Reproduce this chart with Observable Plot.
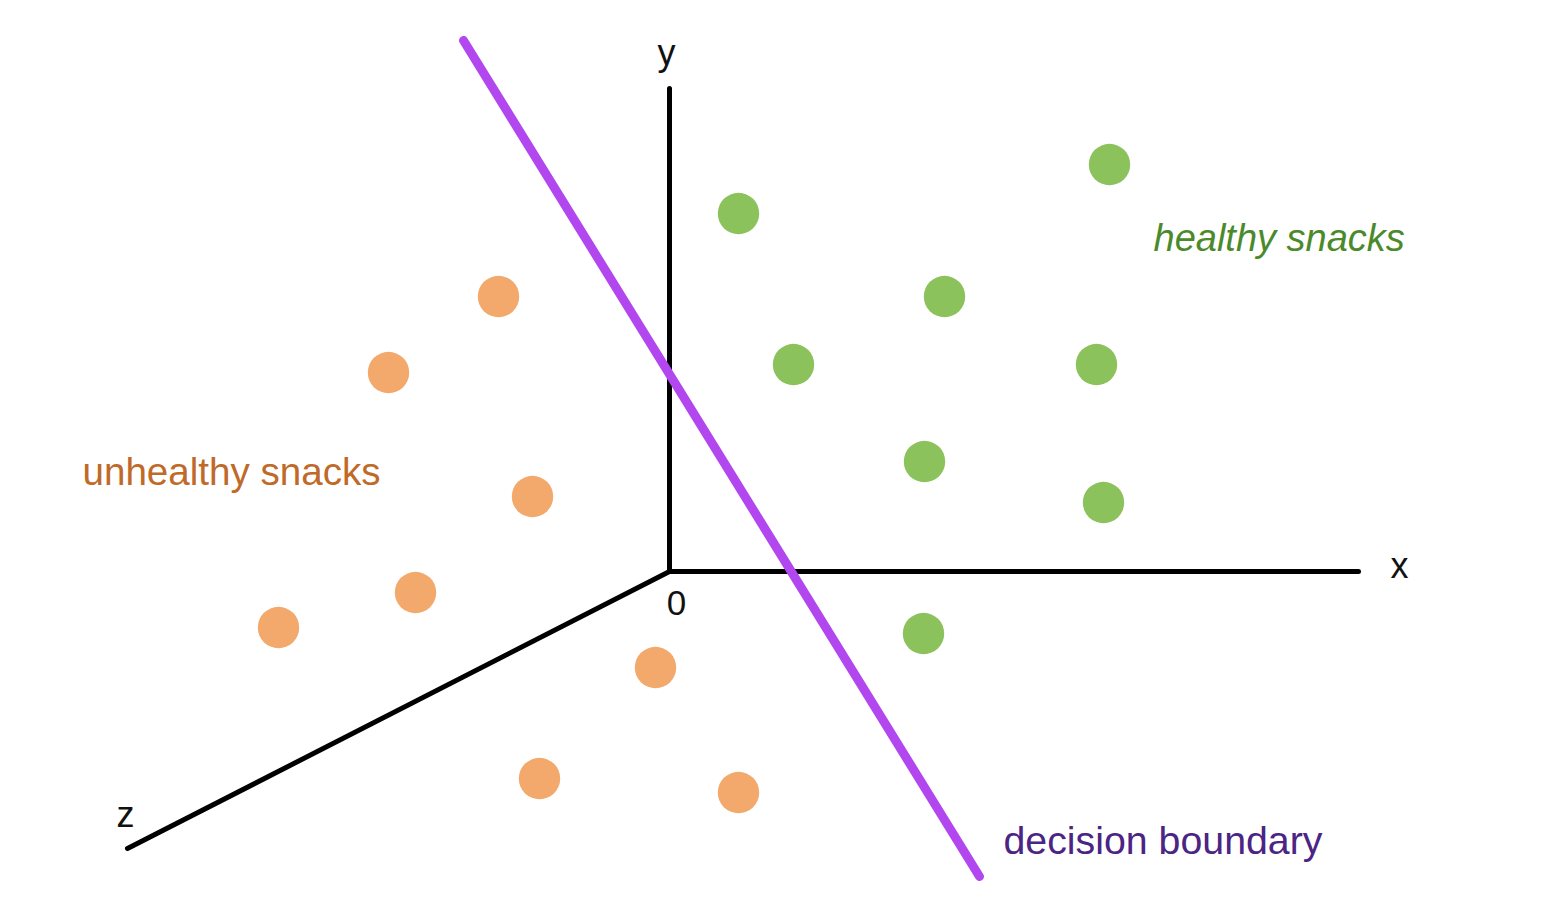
<!DOCTYPE html>
<html>
<head>
<meta charset="utf-8">
<script src="https://cdn.jsdelivr.net/npm/d3@7"></script>
<script src="https://cdn.jsdelivr.net/npm/@observablehq/plot@0.6"></script>
<style>
  html, body { margin: 0; padding: 0; background: #ffffff; }
  #chart svg { display: block; }
</style>
</head>
<body>
<div id="chart"></div>
<script>
// Diagram coordinates: origin at the axes' meeting point, y upward.
const axisNames = ["x", "y", "z"];
const axisEndX = [689, 0, -542];
const axisEndY = [0, 483, -277];
const axisLabelX = [730, -3, -544];
const axisLabelY = [-6, 507, -255];
const originLabel = ["0"];
const originLabelX = [7];
const originLabelY = [-43];

const healthyX = [440, 69, 275, 124, 427, 255, 434, 254];
const healthyY = [407, 358, 275, 207, 207, 110, 69, -62];

const unhealthyX = [-171, -281, -137, -254, -391, -14, -130, 69];
const unhealthyY = [275, 199, 75, -21, -56, -96, -207, -221];

const boundaryX = [-206, 310];
const boundaryY = [531, -305];

const labelTexts = ["healthy snacks", "unhealthy snacks", "decision boundary"];
const labelX = [484, -587, 334];
const labelY = [321, 87, -282];

const W = 1542, H = 902;

const axes = axisNames.map((name, i) => ({name, x2: axisEndX[i], y2: axisEndY[i], lx: axisLabelX[i], ly: axisLabelY[i]}));
const healthy = healthyX.map((x, i) => ({x, y: healthyY[i]}));
const unhealthy = unhealthyX.map((x, i) => ({x, y: unhealthyY[i]}));
const boundary = [{x1: boundaryX[0], y1: boundaryY[0], x2: boundaryX[1], y2: boundaryY[1]}];
const labels = labelTexts.map((t, i) => ({t, x: labelX[i], y: labelY[i]}));
const origin = originLabel.map((t, i) => ({t, x: originLabelX[i], y: originLabelY[i]}));

const font = "'Liberation Sans', Arial, Helvetica, sans-serif";

const chart = Plot.plot({
  width: W,
  height: H,
  margin: 0,
  style: {background: "#ffffff", fontFamily: font},
  x: {domain: [-669, 873], range: [0, W], axis: null},
  y: {domain: [-331, 571], range: [H, 0], axis: null},
  marks: [
    Plot.link(axes, {x1: () => 0, y1: () => 0, x2: "x2", y2: "y2", stroke: "#000000", strokeWidth: 5, strokeLinecap: "round"}),
    Plot.text(axes, {x: "lx", y: "ly", text: "name", fill: "#111111", fontSize: 36, textAnchor: "middle", lineAnchor: "bottom"}),
    Plot.text(origin, {x: "x", y: "y", text: "t", fill: "#111111", fontSize: 35, textAnchor: "middle", lineAnchor: "bottom"}),
    Plot.link(boundary, {x1: "x1", y1: "y1", x2: "x2", y2: "y2", stroke: "#b247ef", strokeWidth: 9, strokeLinecap: "round"}),
    Plot.dot(healthy, {x: "x", y: "y", r: 20.7, fill: "#8bc25b", stroke: "none"}),
    Plot.dot(unhealthy, {x: "x", y: "y", r: 20.7, fill: "#f2a96b", stroke: "none"}),
    Plot.text([labels[0]], {x: "x", y: "y", text: "t", fill: "#4b8a2b", fontSize: 38, fontStyle: "italic", textAnchor: "start", lineAnchor: "bottom"}),
    Plot.text([labels[1]], {x: "x", y: "y", text: "t", fill: "#bf6a29", fontSize: 38.6, textAnchor: "start", lineAnchor: "bottom"}),
    Plot.text([labels[2]], {x: "x", y: "y", text: "t", fill: "#4b2484", fontSize: 39.3, textAnchor: "start", lineAnchor: "bottom"})
  ]
});
document.getElementById("chart").appendChild(chart);
</script>
</body>
</html>
